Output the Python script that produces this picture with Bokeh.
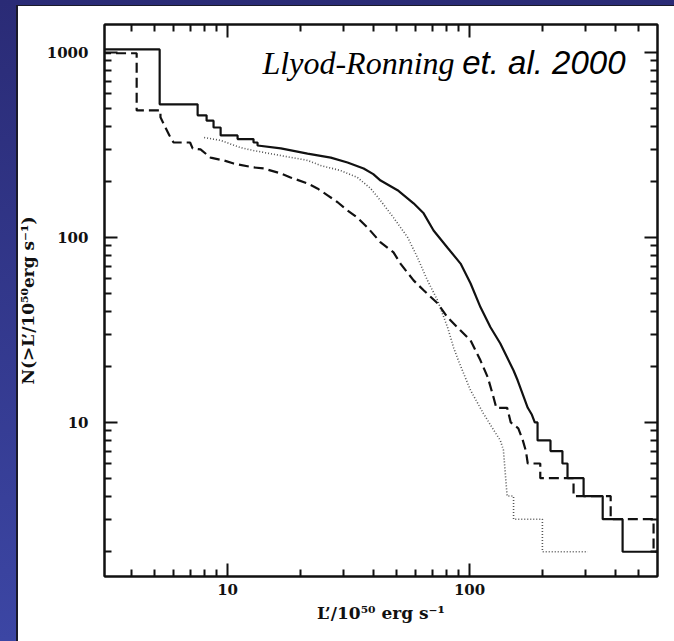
from bokeh.plotting import figure
from bokeh.models import (LogAxis, FixedTicker, Label, Range1d, ColumnDataSource,
                          PrintfTickFormatter)
from bokeh.embed import file_html
from bokeh.resources import INLINE

# ---- data: cumulative counts N(>L') ----
solid_L = [3.0, 5.24, 5.24, 7.52, 7.52, 8.19, 8.19, 8.75, 8.75, 9.36, 9.36, 11.0, 11.0,
           12.8, 12.8, 13.3, 13.3, 16.6, 21.4, 26.7, 31.3, 36.5, 40.0, 42.9, 50.4, 58.7,
           64.6, 71.0, 81.1, 91.8, 101, 111, 122, 134, 152, 158, 174, 181, 186, 191, 191,
           216, 216, 242, 242, 254, 254, 296, 296, 355, 355, 429, 429, 700]
solid_N = [1038, 1038, 524, 524, 457, 457, 428, 428, 393, 393, 356, 356, 340,
           340, 326, 326, 314, 303, 284, 270, 254, 236, 220, 203, 180, 153,
           135, 109, 88, 72.2, 56.4, 41.9, 32.7, 26.7, 19.1, 16.9, 12, 11, 10, 10, 8,
           8, 7, 7, 6, 6, 5, 5, 4, 4, 3, 3, 2, 2]

dashed_L = [3.0, 4.21, 4.21, 5.28, 5.28, 5.75, 5.98, 7.0, 7.17, 7.73, 8.51, 9.62, 10.6,
            12.8, 14.1, 16.6, 18.2, 21.4, 23.5, 25.9, 28.5, 31.3, 34.4, 37.9, 42.9, 48.5,
            51.9, 58.7, 64.6, 73.8, 81.1, 91.8, 101, 111, 119, 125, 129, 143, 148, 159,
            166, 171, 174, 196, 196, 269, 269, 383, 383, 576, 576, 700]
dashed_N = [990, 990, 486, 486, 446, 356, 326, 326, 303, 299, 270, 261, 251,
            239, 236, 222, 211, 196, 184, 169, 155, 140, 128, 113, 94, 83,
            72, 58.6, 51.8, 44, 37, 31.4, 27.7, 21.6, 17.5, 14, 12, 12, 10, 9.3,
            8, 7, 6, 6, 5, 5, 4, 4, 3, 3, 2, 2]

dotted_L = [8.0, 9.4, 11.3, 12.8, 16.6, 21.4, 24.2, 29.3, 34.4, 39.0, 42.9, 48.5, 55.5,
            60.9, 67.0, 73.8, 81.1, 85.9, 89.0, 94.5, 101, 114, 126, 134, 138, 141, 143,
            152, 152, 200, 200, 308]
dotted_N = [347, 334, 306, 295, 277, 261, 245, 230, 211, 184, 158, 128, 100,
            78, 58.6, 45.6, 32.7, 25.4, 22.4, 18.4, 14.9, 11.2, 9.06, 8, 7.1, 5, 4,
            4, 3, 3, 2, 2]

x_major = [10, 100]
x_minor = [4, 5, 6, 7, 8, 9, 20, 30, 40, 50, 60, 70, 80, 90, 200, 300, 400, 500]
y_major = [10, 100, 1000]
y_minor = [2, 3, 4, 5, 6, 7, 8, 9, 20, 30, 40, 50, 60, 70, 80, 90,
           200, 300, 400, 500, 600, 700, 800, 900]

x_label = "L\u2019/10\u2075\u2070 erg s\u207b\u00b9"
y_label = "N(>L\u2019/10\u2075\u2070erg s\u207b\u00b9)"
ref_italic = "Llyod-Ronning"
ref_rest = "et. al. 2000"

p = figure(width=674, height=641, x_axis_type="log", y_axis_type="log",
           x_range=Range1d(3.1, 598), y_range=Range1d(1.47, 1416),
           output_backend="svg", toolbar_location=None,
           min_border_left=104, min_border_right=17, min_border_top=24,
           min_border_bottom=65)
p.grid.visible = False
p.background_fill_color = "white"
p.border_fill_color = None
p.outline_line_color = "#111111"
p.outline_line_width = 2


def style_axis(ax, labels=True):
    ax.axis_line_color = "#111111"
    ax.axis_line_width = 2
    ax.major_tick_in = 13
    ax.major_tick_out = 0
    ax.minor_tick_in = 7
    ax.minor_tick_out = 0
    ax.major_tick_line_width = 2
    ax.minor_tick_line_width = 2
    ax.major_tick_line_color = "#111111"
    ax.minor_tick_line_color = "#111111"
    ax.formatter = PrintfTickFormatter(format="%d")
    ax.major_label_text_font = "DejaVu Serif"
    ax.major_label_text_font_style = "bold"
    ax.major_label_text_font_size = "15px"
    ax.major_label_text_color = "#111111"
    ax.axis_label_text_font = "DejaVu Serif"
    ax.axis_label_text_font_style = "bold"
    ax.axis_label_text_font_size = "17px"
    ax.axis_label_text_color = "#111111"
    if not labels:
        ax.major_label_text_font_size = "1px"
        ax.major_label_text_color = None
        ax.major_label_standoff = 0


p.xaxis[0].ticker = FixedTicker(ticks=x_major, minor_ticks=x_minor)
p.yaxis[0].ticker = FixedTicker(ticks=y_major, minor_ticks=y_minor)
style_axis(p.xaxis[0])
style_axis(p.yaxis[0])
p.xaxis[0].axis_label = x_label
p.yaxis[0].axis_label = y_label
p.xaxis[0].major_label_standoff = 7
p.yaxis[0].major_label_standoff = 16
p.xaxis[0].axis_label_standoff = 5
p.yaxis[0].axis_label_standoff = 6

top_ax = LogAxis(ticker=FixedTicker(ticks=x_major, minor_ticks=x_minor))
right_ax = LogAxis(ticker=FixedTicker(ticks=y_major, minor_ticks=y_minor))
style_axis(top_ax, labels=False)
style_axis(right_ax, labels=False)
p.add_layout(top_ax, "above")
p.add_layout(right_ax, "right")

src_s = ColumnDataSource(dict(L=solid_L, N=solid_N))
src_d = ColumnDataSource(dict(L=dashed_L, N=dashed_N))
src_o = ColumnDataSource(dict(L=dotted_L, N=dotted_N))

p.line(x="L", y="N", source=src_o, line_color="#555555",
       line_width=1.6, line_dash="1 2")
p.line(x="L", y="N", source=src_d, line_color="#111111",
       line_width=2.2, line_dash="10 5")
p.line(x="L", y="N", source=src_s, line_color="#111111",
       line_width=2.2)

# reference note, anchored in data space (left of first word, right end of second)
p.add_layout(Label(x=13.95, y=880, text=ref_italic, text_font="Liberation Serif",
                   text_font_style="italic", text_font_size="32px",
                   text_color="#000000", text_baseline="alphabetic"))
p.add_layout(Label(x=441, y=880, text=ref_rest, text_font="Liberation Sans",
                   text_font_style="italic", text_font_size="33px",
                   text_color="#000000", text_baseline="alphabetic",
                   text_align="right"))

html = file_html(p, INLINE)
css = ("<style>html{min-height:100%;background:"
       "linear-gradient(#ffffff,#ffffff) 18px 6px / 3000px 3000px no-repeat,"
       "linear-gradient(#1a1a2a,#1a1a2a) 16px 5px / 3000px 3000px no-repeat,"
       "linear-gradient(#2a2b76,#3c46a4) 0 0 / 100% 641px no-repeat;}"
       "body{background:transparent;}"
       "</style></head>")
html = html.replace("</head>", css, 1)
open("out.html", "w").write(html)
